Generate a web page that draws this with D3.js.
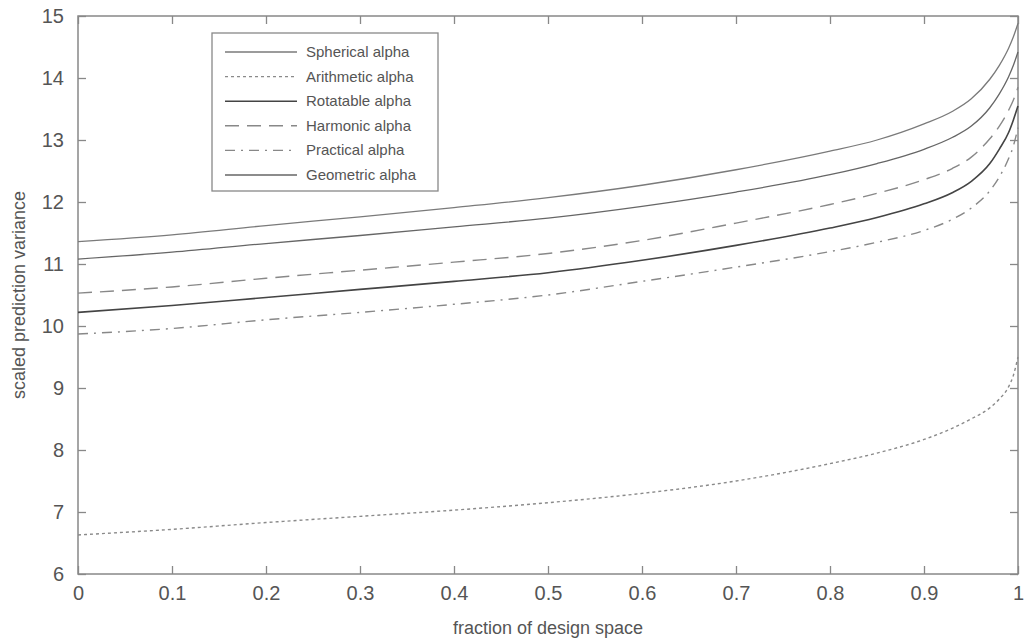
<!DOCTYPE html>
<html><head><meta charset="utf-8">
<script src="https://cdn.jsdelivr.net/npm/d3@7"></script>
<style>body{margin:0;background:#fff}text{font-family:Arial,"Liberation Sans",sans-serif}</style>
</head><body><svg id="c" width="1029" height="641"></svg>
<script>
const fractions = [0, 0.1, 0.2, 0.3, 0.4, 0.5, 0.6, 0.7, 0.8, 0.85, 0.9, 0.93, 0.95, 0.97, 0.98, 0.99, 0.995, 1.0];
const spherical  = [11.36, 11.47, 11.62, 11.76, 11.91, 12.07, 12.27, 12.52, 12.82, 13.00, 13.26, 13.46, 13.66, 13.98, 14.20, 14.48, 14.66, 14.88];
const arithmetic = [6.63, 6.72, 6.83, 6.93, 7.03, 7.15, 7.30, 7.50, 7.78, 7.95, 8.17, 8.35, 8.50, 8.68, 8.82, 9.02, 9.20, 9.50];
const rotatable  = [10.22, 10.33, 10.46, 10.59, 10.72, 10.86, 11.06, 11.30, 11.58, 11.75, 11.97, 12.15, 12.33, 12.62, 12.85, 13.12, 13.32, 13.55];
const harmonic   = [10.53, 10.63, 10.77, 10.90, 11.03, 11.17, 11.38, 11.66, 11.96, 12.14, 12.36, 12.54, 12.72, 13.02, 13.22, 13.48, 13.64, 13.85];
const practical  = [9.87, 9.96, 10.10, 10.22, 10.35, 10.50, 10.72, 10.95, 11.20, 11.35, 11.54, 11.72, 11.90, 12.18, 12.40, 12.70, 12.90, 13.20];
const geometric  = [11.08, 11.19, 11.33, 11.46, 11.60, 11.74, 11.93, 12.16, 12.44, 12.62, 12.85, 13.04, 13.22, 13.52, 13.74, 14.02, 14.20, 14.42];
const seriesNames = ["Spherical alpha", "Arithmetic alpha", "Rotatable alpha", "Harmonic alpha", "Practical alpha", "Geometric alpha"];
const seriesValues = [spherical, arithmetic, rotatable, harmonic, practical, geometric];
const xTicks = [0, 0.1, 0.2, 0.3, 0.4, 0.5, 0.6, 0.7, 0.8, 0.9, 1];
const yTicks = [6, 7, 8, 9, 10, 11, 12, 13, 14, 15];

const styles = [
  {stroke:"#7a7a7a", dash:null, w:1.3},
  {stroke:"#8a8a8a", dash:"3,3", w:1.4},
  {stroke:"#444", dash:null, w:1.6},
  {stroke:"#888", dash:"14,8", w:1.4},
  {stroke:"#888", dash:"10,6,2,6", w:1.4},
  {stroke:"#666", dash:null, w:1.3}
];

const svg = d3.select("#c");
const L = 78, R = 1018, T = 16, B = 574;
const x = d3.scaleLinear().domain([0,1]).range([L,R]);
const y = d3.scaleLinear().domain([6,15]).range([B,T]);
const axisColor = "#888", textColor = "#555";

svg.append("rect").attr("x",L).attr("y",T).attr("width",R-L).attr("height",B-T)
  .attr("fill","none").attr("stroke",axisColor).attr("stroke-width",1.5);

const ax = (g)=>{ g.select(".domain").remove(); g.selectAll("line").attr("stroke",axisColor).attr("stroke-width",1.3); g.selectAll("text").attr("fill",textColor).style("font-size","20px"); };
svg.append("g").attr("transform",`translate(0,${B})`)
  .call(d3.axisBottom(x).tickValues(xTicks).tickFormat(d3.format("")).tickSizeInner(-8).tickSizeOuter(0).tickPadding(12)).call(ax);
svg.append("g").attr("transform",`translate(0,${T})`)
  .call(d3.axisTop(x).tickValues(xTicks).tickFormat("").tickSizeInner(-8).tickSizeOuter(0)).call(ax);
svg.append("g").attr("transform",`translate(${L},0)`)
  .call(d3.axisLeft(y).tickValues(yTicks).tickFormat(d3.format("d")).tickSizeInner(-8).tickSizeOuter(0).tickPadding(14)).call(ax);
svg.append("g").attr("transform",`translate(${R},0)`)
  .call(d3.axisRight(y).tickValues(yTicks).tickFormat("").tickSizeInner(-8).tickSizeOuter(0)).call(ax);

const line = d3.line().x(d=>x(d[0])).y(d=>y(d[1])).curve(d3.curveMonotoneX);
seriesValues.forEach((vals,i)=>{
  const pts = fractions.map((f,j)=>[f, vals[j]]);
  svg.append("path").datum(pts).attr("d",line).attr("fill","none")
    .attr("stroke",styles[i].stroke).attr("stroke-width",styles[i].w)
    .attr("stroke-dasharray",styles[i].dash);
});

svg.append("text").attr("x",(L+R)/2).attr("y",634).attr("text-anchor","middle")
  .attr("fill",textColor).style("font-size","18px").text("fraction of design space");
svg.append("text").attr("transform",`translate(25,${(T+B)/2}) rotate(-90)`).attr("text-anchor","middle")
  .attr("fill",textColor).style("font-size","18px").text("scaled prediction variance");

const lg = svg.append("g");
lg.append("rect").attr("x",212).attr("y",33).attr("width",226).attr("height",158)
  .attr("fill","#fff").attr("stroke",axisColor).attr("stroke-width",1.3);
seriesNames.forEach((n,i)=>{
  const yy = 52 + i*24.6;
  lg.append("line").attr("x1",225).attr("x2",297).attr("y1",yy).attr("y2",yy)
    .attr("stroke",styles[i].stroke).attr("stroke-width",styles[i].w).attr("stroke-dasharray",styles[i].dash);
  lg.append("text").attr("x",306).attr("y",yy+5).attr("fill",textColor).style("font-size","15px").text(n);
});
</script></body></html>
